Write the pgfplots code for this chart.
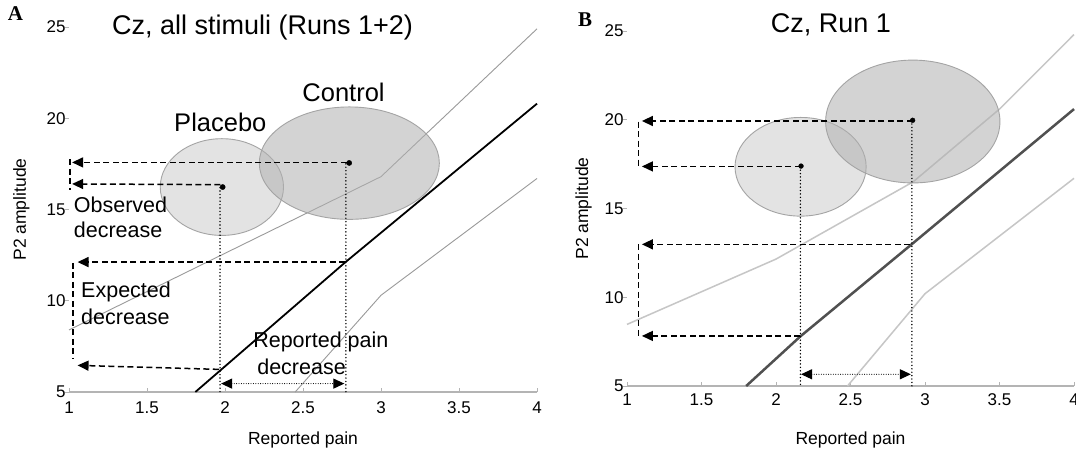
\documentclass[border=0pt]{standalone}
\usepackage{fontspec}
\setmainfont{Liberation Sans}
\newfontfamily\timesfont{Liberation Serif}
\usepackage{pgfplots}
\pgfplotsset{compat=1.18}
\usetikzlibrary{arrows.meta}

\definecolor{bandA}{HTML}{9A9A9A}
\definecolor{bandB}{HTML}{C6C6C6}
\definecolor{fitB}{HTML}{505050}
\definecolor{axisgray}{HTML}{B4B4B4}
\definecolor{edgegray}{HTML}{A4A4A4}

\tikzset{
  dashln/.style={black, line width=1.5pt, dash pattern=on 6pt off 3.5pt},
  dasharr/.style={dashln, -{Triangle[length=11pt,width=10pt]}},
  dotln/.style={black, line width=1.6pt, line cap=round, dash pattern=on 0pt off 3.4pt},
  finedot/.style={black, line width=1.1pt, line cap=round, dash pattern=on 0pt off 2.4pt},
  tips/.style={{Triangle[length=11pt,width=10pt]}-{Triangle[length=11pt,width=10pt]}},
  placebo/.style={draw=edgegray, line width=0.9pt, fill=black, fill opacity=0.11},
  control/.style={draw=edgegray, line width=0.9pt, fill=black!31, fill opacity=0.545},
  note/.style={font=\fontsize{21.5}{25}\selectfont, inner sep=0pt},
  group/.style={font=\fontsize{25.5}{29}\selectfont},
}

\pgfplotsset{
  cmpanel/.style={
    scale only axis,
    xmin=1, xmax=4, ymin=5, ymax=25,
    xtick={1,1.5,2,2.5,3,3.5,4},
    ytick={5,10,15,20,25},
    axis x line=bottom, axis y line=left,
    x axis line style={-, axisgray, line width=1.6pt},
    y axis line style={draw=none},
    tick align=inside,
    major tick length=4pt,
    xtick style={axisgray, line width=1pt},
    ytick style={axisgray, line width=0.8pt, xshift=-4pt},
    ticklabel style={font=\fontsize{17}{19}\selectfont},
    /pgf/number format/assume math mode=true,
    label style={font=\fontsize{17.5}{20}\selectfont},
    xlabel={Reported pain}, ylabel={P2 amplitude},
    clip=false,
  },
}

\begin{document}
\begin{tikzpicture}
\useasboundingbox (0,0) rectangle (1076pt,450pt);
\fill[white] (0,0) rectangle (1076pt,450pt);

% ---------- panel A ----------
\begin{axis}[cmpanel,
  at={(69pt,58pt)}, anchor=south west, width=468pt, height=365pt,
  xticklabel style={yshift=-6pt},
  xlabel style={at={(axis description cs:0.5,-0.145)}, anchor=base},
  ylabel style={at={(axis description cs:-0.092,0.5)}, anchor=base, rotate=0},
]
\addplot[black, line width=1.8pt] coordinates {(1.81,5) (2.77,12.1) (4,20.8)};
\addplot[bandA, line width=0.9pt] coordinates {(1,8.4) (3,16.8) (4,24.9)};
\addplot[bandA, line width=0.9pt] coordinates {(2.45,5) (3,10.3) (4,16.7)};

\draw[placebo] (axis cs:1.98,16.23) ellipse [x radius=0.395, y radius=2.65];
\draw[control] (axis cs:2.797,17.54) ellipse [x radius=0.577, y radius=3.08];

\draw[dotln] (axis cs:1.968,16.2) -- (axis cs:1.968,5);
\draw[dotln] (axis cs:2.775,17.5) -- (axis cs:2.775,5);
\draw[finedot, tips] (axis cs:1.975,5.46) -- (axis cs:2.765,5.46);

\draw[dasharr] (axis cs:2.78,17.58) -- (axis cs:1.02,17.58);
\draw[dasharr] (axis cs:1.97,16.36) -- (axis cs:1.02,16.4);
\draw[dashln] (axis cs:1.007,17.75) -- (axis cs:1.007,16.05);
\draw[dasharr] (axis cs:2.77,12.12) -- (axis cs:1.055,12.12);
\draw[dasharr] (axis cs:1.96,6.24) -- (axis cs:1.055,6.46);
\draw[dashln] (axis cs:1.027,12.07) -- (axis cs:1.027,6.8);

\addplot[only marks, mark=*, mark size=2.6pt, black] coordinates {(1.985,16.23) (2.796,17.55)};

\node[group, anchor=base] at (axis cs:1.97,19.3) {Placebo};
\node[group, anchor=base] at (axis cs:2.76,20.9) {Control};
\node[note, anchor=base west] at (axis cs:1.03,14.86) {Observed};
\node[note, anchor=base west] at (axis cs:1.03,13.49) {decrease};
\node[note, anchor=base west] at (axis cs:1.077,10.17) {Expected};
\node[note, anchor=base west] at (axis cs:1.077,8.70) {decrease};
\node[note, anchor=base west] at (axis cs:2.18,7.43) {Reported pain};
\node[note, anchor=base west] at (axis cs:2.206,5.97) {decrease};
\end{axis}

% ---------- panel B ----------
\begin{axis}[cmpanel,
  at={(627pt,64pt)}, anchor=south west, width=447pt, height=355pt,
  xticklabel style={yshift=-4pt},
  xlabel style={at={(axis description cs:0.5,-0.166)}, anchor=base},
  ylabel style={at={(axis description cs:-0.087,0.5)}, anchor=base, rotate=0},
]
\addplot[fitB, line width=2.5pt] coordinates {(1.8,5) (2.164,7.8) (2.91,12.98) (4,20.6)};
\addplot[bandB, line width=1.5pt] coordinates {(1,8.47) (2.0,12.15) (2.92,16.5) (3.5,20.6) (4,24.8)};
\addplot[bandB, line width=1.5pt] coordinates {(2.48,5) (3.0,10.2) (4,16.7)};

\draw[placebo] (axis cs:2.165,17.35) ellipse [x radius=0.44, y radius=2.78];
\draw[control] (axis cs:2.918,19.9) ellipse [x radius=0.585, y radius=3.46];

\draw[dotln] (axis cs:2.164,17.35) -- (axis cs:2.164,5);
\draw[dotln] (axis cs:2.912,19.95) -- (axis cs:2.912,5);
\draw[finedot, tips] (axis cs:2.168,5.66) -- (axis cs:2.905,5.66);

\draw[dasharr] (axis cs:2.917,19.93) -- (axis cs:1.1,19.93);
\draw[dasharr] (axis cs:2.165,17.37) -- (axis cs:1.1,17.37);
\draw[dashln] (axis cs:1.076,19.9) -- (axis cs:1.076,17.3);
\draw[dasharr] (axis cs:2.9,12.98) -- (axis cs:1.1,12.98);
\draw[dasharr] (axis cs:2.164,7.82) -- (axis cs:1.1,7.82);
\draw[dashln] (axis cs:1.076,12.98) -- (axis cs:1.076,7.82);

\addplot[only marks, mark=*, mark size=2.4pt, black] coordinates {(2.168,17.39) (2.917,19.97)};
\end{axis}

% titles and panel letters
\node[font=\fontsize{27}{30}\selectfont, anchor=base] at (262.5pt,415pt) {Cz, all stimuli (Runs 1+2)};
\node[font=\fontsize{27}{30}\selectfont, anchor=base] at (831pt,417pt) {Cz, Run 1};
\node[font=\timesfont\bfseries\fontsize{21}{24}\selectfont, anchor=base] at (15.5pt,429pt) {A};
\node[font=\timesfont\bfseries\fontsize{21}{24}\selectfont, anchor=base] at (585pt,423pt) {B};
\end{tikzpicture}
\end{document}
